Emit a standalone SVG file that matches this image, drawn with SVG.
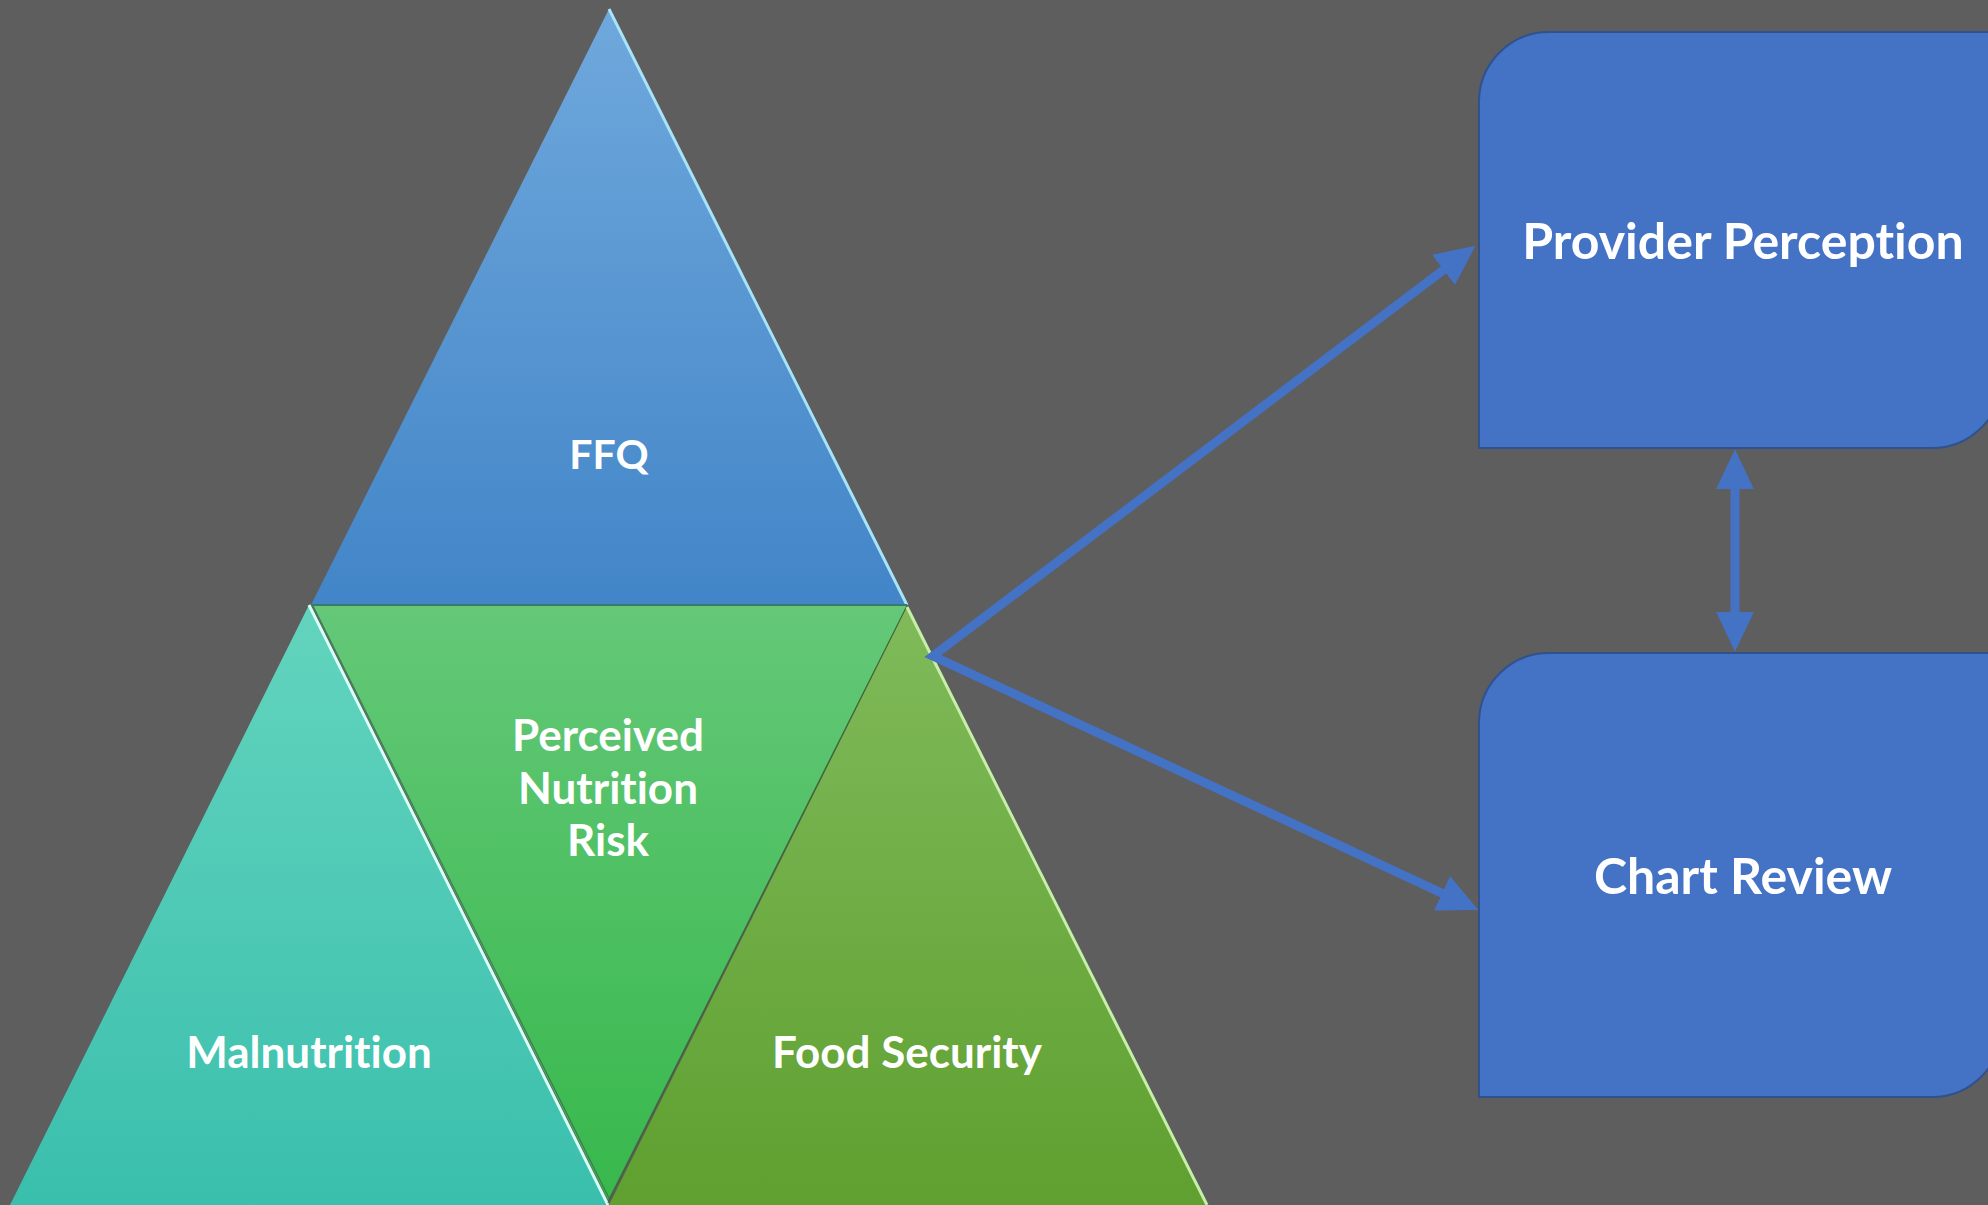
<svg xmlns="http://www.w3.org/2000/svg" width="1988" height="1205" viewBox="0 0 1988 1205">
  <defs>
    <linearGradient id="gBlue" x1="0" y1="0" x2="0" y2="1">
      <stop offset="0" stop-color="#6FA8DC"/>
      <stop offset="1" stop-color="#4285C8"/>
    </linearGradient>
    <linearGradient id="gGreen" x1="0" y1="0" x2="0" y2="1">
      <stop offset="0" stop-color="#64C878"/>
      <stop offset="1" stop-color="#37B84C"/>
    </linearGradient>
    <linearGradient id="gTeal" x1="0" y1="0" x2="0" y2="1">
      <stop offset="0" stop-color="#63D4BE"/>
      <stop offset="1" stop-color="#3ABFAD"/>
    </linearGradient>
    <linearGradient id="gOlive" x1="0" y1="0" x2="0" y2="1">
      <stop offset="0" stop-color="#80BA5A"/>
      <stop offset="1" stop-color="#5FA030"/>
    </linearGradient>
    <marker id="head" markerUnits="userSpaceOnUse" markerWidth="40" markerHeight="40" viewBox="0 0 38 36" refX="22" refY="18" orient="auto-start-reverse">
      <path d="M0,0 L38,18 L0,36 Z" fill="#4472C4"/>
    </marker>
    <style>
      .lbl { font-family: Lato, "Open Sans", "Liberation Sans", sans-serif; font-weight: 700; fill: #FFFFFF; text-anchor: middle; font-variant-ligatures: none; }
      .tri { font-size: 44px; }
      .ffq { font-size: 41px; }
      .box { font-size: 50px; }
      .card { fill: #4472C4; stroke: #2F528F; stroke-width: 2; }
      .conn { fill: none; stroke: #4472C4; stroke-width: 9; stroke-linejoin: miter; }
      .hl { stroke-width: 3; fill: none; }
    </style>
  </defs>
  <rect x="0" y="0" width="1988" height="1205" fill="#5E5E5E"/>

  <g id="node-ffq">
    <polygon points="609,9 907,605 311,605" fill="url(#gBlue)"/>
    <line x1="609" y1="9" x2="907" y2="605" class="hl" stroke="#A8E4F7"/>
    <text class="lbl ffq" x="609" y="469">FFQ</text>
  </g>

  <g id="node-malnutrition">
    <polygon points="309,605 608,1205 10,1205" fill="url(#gTeal)"/>
    <line x1="309" y1="605" x2="608" y2="1205" class="hl" stroke="#D8FFF8"/>
    <text class="lbl tri" x="309" y="1068">Malnutrition</text>
  </g>

  <g id="node-perceived">
    <polygon points="312,605 907,605 608,1200" fill="url(#gGreen)"/>
    <line x1="313" y1="606" x2="609" y2="1198" stroke="#3E7A4E" stroke-width="1.2"/>
    <line x1="907" y1="606" x2="608" y2="1203" stroke="#3C6A34" stroke-width="1.2"/>
    <line x1="311" y1="605" x2="907" y2="605" stroke="#3A7A6A" stroke-width="2"/>
    <text class="lbl tri" x="608" y="751">Perceived</text>
    <text class="lbl tri" x="608" y="804">Nutrition</text>
    <text class="lbl tri" x="608" y="856">Risk</text>
  </g>

  <g id="node-food-security">
    <polygon points="907,607 1207,1205 609,1205" fill="url(#gOlive)"/>
    <line x1="907" y1="607" x2="1207" y2="1205" class="hl" stroke="#C6EFA8"/>
    <text class="lbl tri" x="907" y="1068">Food Security</text>
  </g>

  <g id="node-provider">
    <path class="card" d="M1479,448 L1479,102 A70,70 0 0 1 1549,32 L2002,32 L2002,378 A70,70 0 0 1 1932,448 Z"/>
    <text class="lbl box" x="1743" y="259">Provider Perception</text>
  </g>

  <g id="node-chart">
    <path class="card" d="M1479,1097 L1479,723 A70,70 0 0 1 1549,653 L2002,653 L2002,1027 A70,70 0 0 1 1932,1097 Z"/>
    <text class="lbl box" x="1743" y="894">Chart Review</text>
  </g>

  <g id="connectors">
    <path class="conn" d="M1462,256 L933,656 L1463,903" marker-start="url(#head)" marker-end="url(#head)"/>
    <path class="conn" d="M1735,466 L1735,635" marker-start="url(#head)" marker-end="url(#head)"/>
  </g>
</svg>
